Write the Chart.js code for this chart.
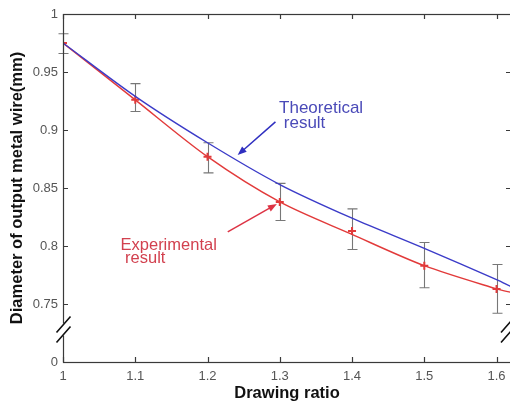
<!DOCTYPE html>
<html>
<head>
<meta charset="utf-8">
<script src="https://cdn.jsdelivr.net/npm/chart.js@4.4.1/dist/chart.umd.min.js"></script>
<style>
  html, body { margin: 0; padding: 0; background: #fff; overflow: hidden; }
  /* wider than the window on purpose: the right frame edge sits just off-picture, as in the original */
  #wrap { width: 517px; height: 403px; position: relative; }
</style>
</head>
<body>
<div id="wrap"><canvas id="chart"></canvas></div>
<script>
/* ── data ── */
const drawRatio       = [1.0, 1.1, 1.2, 1.3, 1.4, 1.5, 1.6];
const curveRatio      = [1.0, 1.1, 1.2, 1.3, 1.4, 1.5, 1.6, 1.62];
const theoretical     = [0.975, 0.929, 0.889, 0.853, 0.824, 0.798, 0.771, 0.765];
const experimentalFit = [0.975, 0.926, 0.877, 0.838, 0.810, 0.783, 0.763, 0.760];
const experimental    = [0.975, 0.926, 0.877, 0.838, 0.813, 0.783, 0.763];
const errUpper        = [0.983, 0.940, 0.889, 0.854, 0.832, 0.803, 0.784];
const errLower        = [0.966, 0.916, 0.863, 0.822, 0.797, 0.764, 0.742];
const xTicks          = [1, 1.1, 1.2, 1.3, 1.4, 1.5, 1.6];
const yTicks          = [0.7, 0.75, 0.8, 0.85, 0.9, 0.95, 1];
const yTickLabels     = ['0', '0.75', '0.8', '0.85', '0.9', '0.95', '1'];
const yBreakAt        = 0.728;   // the "0.7" slot is relabelled 0, axis is broken here

const BLUE = '#3b3bc8';
const RED = '#e23a3a';
const FRAME = '#3a3a3a';
const FONT = '"Liberation Sans", Arial, sans-serif';

// annotation anchors, in data units
const notes = {
  theo:  { lines: ['Theoretical', ' result'], x: 1.299, y: 0.9147, dy: 15, size: 17, color: '#4a4ab8' },
  exp:   { lines: ['Experimental', ' result'], x: 1.0796, y: 0.7966, dy: 13, size: 16.5, color: '#d2414f' },
  theoArrow: { from: [1.294, 0.907], to: [1.2417, 0.8784], color: '#2f2fc0' },
  expArrow:  { from: [1.228, 0.8121], to: [1.296, 0.8362], color: '#dd3344' }
};

const xy = (xs, ys) => xs.map((x, i) => ({ x, y: ys[i] }));

function arrow(ctx, x1, y1, x2, y2, color) {
  const a = Math.atan2(y2 - y1, x2 - x1), L = 9, W = 3.5;
  ctx.strokeStyle = color; ctx.fillStyle = color; ctx.lineWidth = 1.5;
  ctx.beginPath(); ctx.moveTo(x1, y1);
  ctx.lineTo(x2 - L * Math.cos(a) * 0.6, y2 - L * Math.sin(a) * 0.6); ctx.stroke();
  ctx.beginPath();
  ctx.moveTo(x2, y2);
  ctx.lineTo(x2 - L * Math.cos(a) + W * Math.sin(a), y2 - L * Math.sin(a) - W * Math.cos(a));
  ctx.lineTo(x2 - L * Math.cos(a) - W * Math.sin(a), y2 - L * Math.sin(a) + W * Math.cos(a));
  ctx.closePath(); ctx.fill();
}

/* ── error bars under the lines ── */
const errorBars = {
  id: 'errorBars',
  beforeDatasetsDraw(chart) {
    const { ctx, scales: { x, y } } = chart;
    ctx.save();
    ctx.strokeStyle = '#777'; ctx.lineWidth = 1.1;
    drawRatio.forEach((r, i) => {
      const px = Math.round(x.getPixelForValue(r)) + 0.5;
      const top = y.getPixelForValue(errUpper[i]);
      const bot = y.getPixelForValue(errLower[i]);
      ctx.beginPath();
      ctx.moveTo(px, top); ctx.lineTo(px, bot);
      ctx.moveTo(px - 5, top); ctx.lineTo(px + 5, top);
      ctx.moveTo(px - 5, bot); ctx.lineTo(px + 5, bot);
      ctx.stroke();
    });
    ctx.restore();
  }
};

/* ── MATLAB-ish box, inward ticks, axis breaks, annotations ── */
const frame = {
  id: 'frame',
  afterDraw(chart) {
    const { ctx, chartArea: a, scales: { x, y } } = chart;
    ctx.save();
    ctx.strokeStyle = FRAME; ctx.lineWidth = 1.2;
    ctx.strokeRect(a.left + 0.5, a.top + 0.5, a.right - a.left, a.bottom - a.top);

    ctx.beginPath();
    xTicks.forEach(v => {
      const p = Math.round(x.getPixelForValue(v)) + 0.5;
      ctx.moveTo(p, a.bottom); ctx.lineTo(p, a.bottom - 5);
      ctx.moveTo(p, a.top); ctx.lineTo(p, a.top + 5);
    });
    yTicks.forEach(v => {
      const p = Math.round(y.getPixelForValue(v)) + 0.5;
      ctx.moveTo(a.left, p); ctx.lineTo(a.left + 5, p);
      ctx.moveTo(a.right, p); ctx.lineTo(a.right - 5, p);
    });
    ctx.stroke();

    // axis break marks
    const yb = y.getPixelForValue(yBreakAt);
    [a.left + 0.5, a.right - 3].forEach(bx => {
      ctx.fillStyle = '#fff';
      ctx.fillRect(bx - 3, yb - 6, 6, 12);
      ctx.strokeStyle = '#111'; ctx.lineWidth = 1.6;
      ctx.beginPath();
      [-5, 5].forEach(o => {
        ctx.moveTo(bx - 7, yb + o + 8); ctx.lineTo(bx + 7, yb + o - 8);
      });
      ctx.stroke();
    });

    // text annotations
    ctx.textBaseline = 'alphabetic';
    [notes.theo, notes.exp].forEach(n => {
      ctx.font = n.size + 'px ' + FONT;
      ctx.fillStyle = n.color;
      const tx = x.getPixelForValue(n.x), ty = y.getPixelForValue(n.y);
      n.lines.forEach((t, i) => ctx.fillText(t, tx, ty + i * n.dy));
    });
    [notes.theoArrow, notes.expArrow].forEach(ar => {
      arrow(ctx, x.getPixelForValue(ar.from[0]), y.getPixelForValue(ar.from[1]),
                 x.getPixelForValue(ar.to[0]), y.getPixelForValue(ar.to[1]), ar.color);
    });
    ctx.restore();
  }
};

new Chart(document.getElementById('chart'), {
  type: 'scatter',
  data: {
    datasets: [
      { label: 'Theoretical', data: xy(curveRatio, theoretical), showLine: true,
        borderColor: BLUE, borderWidth: 1.4, pointRadius: 0, tension: 0.3 },
      { label: 'Experimental fit', data: xy(curveRatio, experimentalFit), showLine: true,
        borderColor: RED, borderWidth: 1.4, pointRadius: 0, tension: 0.3 },
      { label: 'Experimental', data: xy(drawRatio, experimental), showLine: false,
        pointStyle: 'cross', pointRadius: 4, borderColor: RED, borderWidth: 2 }
    ]
  },
  options: {
    responsive: true,
    maintainAspectRatio: false,
    animation: false,
    layout: { padding: { top: 14, right: 0, left: 0, bottom: 0 } },
    plugins: { legend: { display: false }, tooltip: { enabled: false } },
    scales: {
      x: {
        type: 'linear', min: 1, max: 1.62,
        afterBuildTicks: s => { s.ticks = xTicks.map(v => ({ value: v })); },
        afterFit: s => { s.height = 41; },
        grid: { display: false, tickLength: 0 }, border: { display: false },
        ticks: { color: '#555', padding: 7, font: { family: FONT, size: 13 },
                 callback: v => String(+v.toFixed(2)) },
        title: { display: true, text: 'Drawing ratio', color: '#111',
                 padding: { top: 0, bottom: 0 }, font: { family: FONT, size: 16.5, weight: 'bold' } }
      },
      y: {
        type: 'linear', min: 0.7, max: 1,
        afterBuildTicks: s => { s.ticks = yTicks.map(v => ({ value: v })); },
        afterFit: s => { s.width = 63; },
        grid: { display: false, tickLength: 0 }, border: { display: false },
        ticks: { color: '#555', padding: 5, font: { family: FONT, size: 13 },
                 callback: (v, i) => yTickLabels[i] },
        title: { display: true, text: 'Diameter of output metal wire(mm)', color: '#111',
                 padding: { top: 8, bottom: 0 }, font: { family: FONT, size: 16.5, weight: 'bold' } }
      }
    }
  },
  plugins: [errorBars, frame]
});
</script>
</body>
</html>
